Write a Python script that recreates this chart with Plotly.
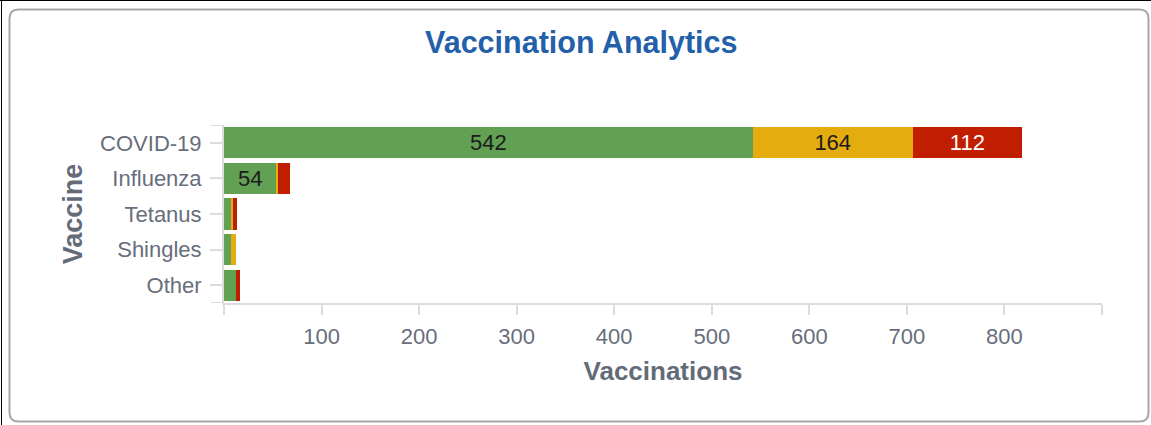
import plotly.graph_objects as go

# Vaccination counts per vaccine, split into three status groups
vaccines = ["COVID-19", "Influenza", "Tetanus", "Shingles", "Other"]
completed = [542, 54, 8, 7, 12]
partial = [164, 1, 1, 5, 0]
overdue = [112, 13, 4, 0, 4]

x_tick_vals = [0, 100, 200, 300, 400, 500, 600, 700, 800, 900]
x_tick_text = ["", "100", "200", "300", "400", "500", "600", "700", "800", ""]

W, H = 1151, 425
L, R, T, B = 224, 49, 125, 122
PW, PH = W - L - R, H - T - B


def px(x):
    return (x - L) / PW


def py(y):
    return 1 - (y - T) / PH


GREEN, ORANGE, RED = "#62a054", "#e4ac0f", "#c11d00"
SANS = "Liberation Sans, Arial, sans-serif"

fig = go.Figure()
for vals, color, txt in [
    (completed, GREEN, "#1b1b1b"),
    (partial, ORANGE, "#1b1b1b"),
    (overdue, RED, "#ffffff"),
]:
    fig.add_trace(go.Bar(
        y=vaccines, x=vals, orientation="h",
        marker=dict(color=color, line=dict(width=0)),
        texttemplate="%{x}", textposition="inside",
        insidetextanchor="middle", textangle=0,
        textfont=dict(color=txt, size=22, family=SANS),
        hoverinfo="skip",
    ))

# card frame: outer dark edge plus rounded grey border
r = 9
x0, y0, x1, y1 = 9.5, 9.5, 1148.5, 421.5
card_path = (
    f"M {px(x0 + r)} {py(y0)} L {px(x1 - r)} {py(y0)} "
    f"Q {px(x1)} {py(y0)} {px(x1)} {py(y0 + r)} "
    f"L {px(x1)} {py(y1 - r)} Q {px(x1)} {py(y1)} {px(x1 - r)} {py(y1)} "
    f"L {px(x0 + r)} {py(y1)} Q {px(x0)} {py(y1)} {px(x0)} {py(y1 - r)} "
    f"L {px(x0)} {py(y0 + r)} Q {px(x0)} {py(y0)} {px(x0 + r)} {py(y0)} Z"
)
shapes = [
    dict(type="path", path=card_path, xref="paper", yref="paper",
         line=dict(color="#a3a7ab", width=2), layer="below"),
    dict(type="line", xref="paper", yref="paper",
         x0=px(0), x1=px(W), y0=py(0.5), y1=py(0.5),
         line=dict(color="#000000", width=1)),
    dict(type="line", xref="paper", yref="paper",
         x0=px(1.5), x1=px(1.5), y0=py(0), y1=py(H),
         line=dict(color="#000000", width=1)),
]
# end ticks marking the top and bottom of the category band
for yv in (-0.5, 4.5):
    shapes.append(dict(type="line", xref="paper", yref="y",
                       x0=px(211), x1=px(224), y0=yv, y1=yv,
                       line=dict(color="#dcdcdc", width=2)))

fig.update_layout(
    width=W, height=H,
    margin=dict(l=L, r=R, t=T, b=B, pad=0),
    paper_bgcolor="#ffffff", plot_bgcolor="#ffffff",
    barmode="stack", bargap=0.12, showlegend=False,
    uniformtext=dict(minsize=21, mode="hide"),
    title=dict(text="<b>Vaccination Analytics</b>", x=0.505, xref="container",
               y=1 - 42 / H, yref="container", yanchor="middle",
               xanchor="center",
               font=dict(family=SANS, size=30.5, color="#2460aa")),
    shapes=shapes,
)

fig.update_xaxes(
    range=[0, 900], tickvals=x_tick_vals, ticktext=x_tick_text,
    showgrid=False, zeroline=False,
    showline=True, linecolor="#dcdcdc", linewidth=2,
    ticks="outside", ticklen=10, tickwidth=2, tickcolor="#dcdcdc",
    tickfont=dict(family=SANS, size=22, color="#676e7c"),
    ticklabelstandoff=3,
    title=dict(text="<b>Vaccinations</b>", standoff=13,
               font=dict(family=SANS, size=26, color="#636b79")),
)
fig.update_yaxes(
    categoryorder="array", categoryarray=vaccines, range=[4.5, -0.5],
    showgrid=False, zeroline=False,
    showline=True, linecolor="#dcdcdc", linewidth=2,
    ticks="outside", ticklen=12, tickwidth=2, tickcolor="#dcdcdc",
    tickfont=dict(family=SANS, size=22, color="#676e7c"),
    ticklabelstandoff=4,
    title=dict(text="<b>Vaccine</b>", standoff=10,
               font=dict(family=SANS, size=27, color="#636b79")),
)

fig.write_html("out.html")
